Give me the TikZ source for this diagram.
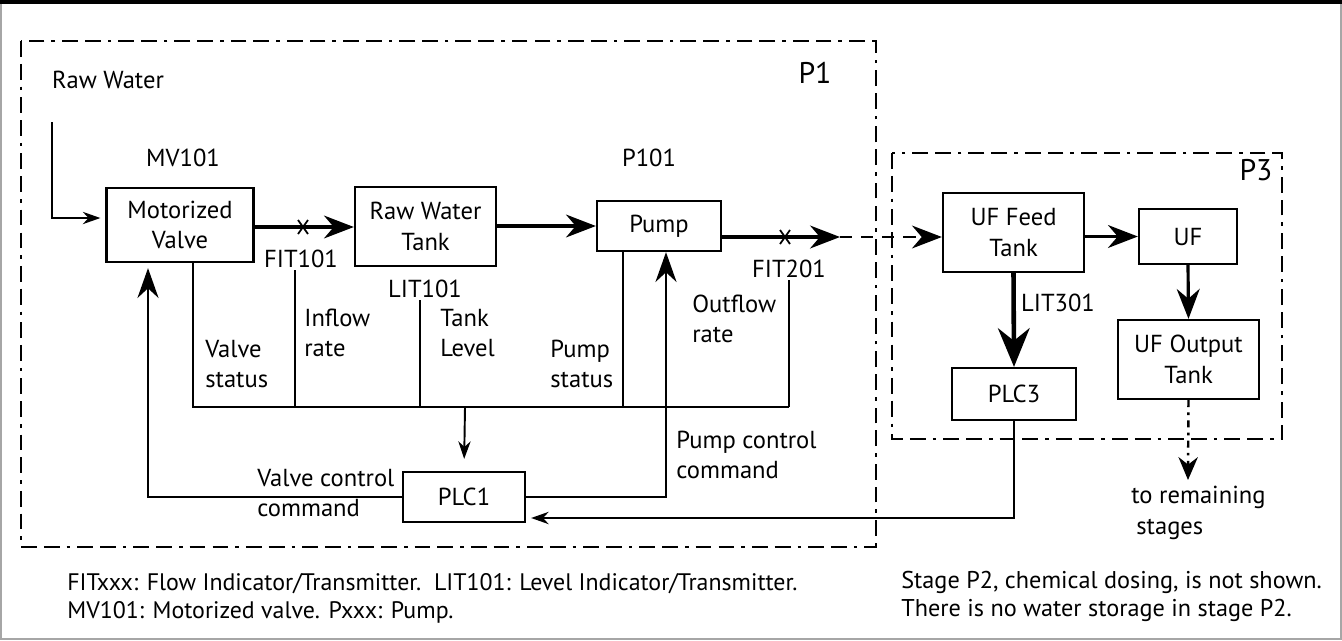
\documentclass[tikz,border=0pt]{standalone}
\usepackage{fontspec}
\setmainfont{PT Sans}
\usetikzlibrary{arrows.meta, positioning}

\begin{document}
\begin{tikzpicture}[x=0.02cm, y=-0.02cm, font=\fontsize{14}{17.5}\selectfont,
    box/.style={draw, line width=1.3pt, align=center, inner sep=2pt},
    flow/.style={line width=1.8pt, -{Stealth[length=17pt, width=13pt]}},
    sig/.style={line width=1.1pt},
    bigtip/.style={-{Stealth[length=17pt, width=12pt]}},
    smalltip/.style={-{Stealth[length=10pt, width=7pt]}},
    stage/.style={line width=1.6pt, dash pattern=on 9pt off 4pt on 9pt off 4pt on 2pt off 4pt},
    lbl/.style={align=left, anchor=west, inner sep=0pt}]
  \useasboundingbox (0,0) rectangle (1342,640);
  \draw[gray!70, line width=0.8pt] (1,1) rectangle (1341,639);
  \draw[line width=2.4pt] (0,2) -- (1342,2);

  % stages
  \draw[stage] (21,41) rectangle (876,547);
  \draw[stage] (892,153) rectangle (1282,439);
  \node (p1) at (815,73) {\fontsize{17}{20}\selectfont P1};
  \node (p3) at (1256,170) {\fontsize{17}{20}\selectfont P3};

  % process blocks
  \node[box, minimum width=2.94cm, minimum height=1.48cm] (mv) at (180,225) {Motorized\\Valve};
  \node[box, minimum width=2.82cm, minimum height=1.58cm] (rwt) at (425.5,226.5) {Raw Water\\Tank};
  \node[box, minimum width=2.48cm, minimum height=1.0cm] (pump) at (659,226) {Pump};
  \node[box, minimum width=2.82cm, minimum height=1.58cm] (uff) at (1013.5,232.5) {UF Feed\\Tank};
  \node[box, minimum width=1.96cm, minimum height=1.1cm] (uf) at (1188,236.5) {UF};
  \node[box, minimum width=2.82cm, minimum height=1.58cm] (ufo) at (1188.5,359.5) {UF Output\\Tank};
  \node[box, minimum width=2.48cm, minimum height=1.04cm] (plc3) at (1014,394) {PLC3};
  \node[box, minimum width=2.44cm, minimum height=1.0cm] (plc1) at (464,497) {PLC1};

  % tags
  \node (rw) at (108,80) {Raw Water};
  \node (mvt) at (183,158) {MV101};
  \node (pt) at (649,158) {P101};
  \node[inner sep=1pt] (fit1) at (301,259) {FIT101};
  \node[inner sep=1pt] (lit1) at (425,289) {LIT101};
  \node[inner sep=1pt] (fit2) at (789,269) {FIT201};
  \node (lit3) at (1058,303) {LIT301};
  \node[lbl] (vst) at (205,364) {Valve\\status};
  \node[lbl] (inr) at (304,333) {Inflow\\rate};
  \node[lbl] (tkl) at (440,333) {Tank\\Level};
  \node[lbl] (pst) at (550,364) {Pump\\status};
  \node[lbl] (outr) at (692,319) {Outflow\\rate};
  \node[lbl] (pcc) at (676,455) {Pump control\\command};
  \node[lbl] (vcc) at (257,493) {Valve control\\command};
  \node[lbl, anchor=north west] (rem) at (1131,486) {to remaining\\\hspace{0.1cm}stages};

  % water flow
  \coordinate (rwin) at (52,122);
  \draw[sig, smalltip, shorten >=0.1cm] (rwin) |- ([yshift=0.14cm]mv.west);
  \draw[flow] (mv.east |- 0,227) coordinate (a1) -- (rwt.west |- a1);
  \draw[flow] (rwt.east |- pump.west) -- (pump.west);
  \coordinate (jn) at (840,237);
  \draw[flow] (pump.east |- jn) -- (jn);
  \draw[line width=1.4pt, dash pattern=on 7pt off 5pt, -{Stealth[length=17pt, width=13pt]}] (jn) -- (uff.west |- jn);
  \draw[flow] (uff.east |- uf.west) -- (uf.west);
  \draw[flow] (uf.south) -- (ufo.north);
  \draw[line width=2.6pt, -{Stealth[length=22pt, width=18pt]}] (uff.south) -- (plc3.north);
  \coordinate (dn) at (1188,480);
  \draw[line width=1.4pt, dash pattern=on 4pt off 3pt on 1.5pt off 3pt, -{Stealth[length=13pt, width=11pt]}] (ufo.south) -- (dn);

  % flow meters
  \foreach \mx/\my in {303/227, 785/237}
    \draw[line width=1pt] (\mx-5,\my-7) -- (\mx+5,\my+7) (\mx-5,\my+7) -- (\mx+5,\my-7);

  % sensor bus
  \coordinate (b1) at (193,407);
  \coordinate (b2) at (295,407);
  \coordinate (b3) at (420,407);
  \coordinate (b4) at (623,407);
  \coordinate (b5) at (789,407);
  \coordinate (b0) at (465,407);
  \draw[sig] (mv.south -| b1) -- (b1) -- (b5);
  \draw[sig] (fit1.south -| b2) -- (b2);
  \draw[sig] (lit1.south -| b3) -- (b3);
  \draw[sig] (pump.south -| b4) -- (b4);
  \draw[sig] (fit2.south -| b5) -- (b5);
  \draw[sig, smalltip, shorten >=0.24cm] (b0) -- (plc1.north);

  % control commands
  \draw[sig, bigtip, shorten >=0.1cm] (plc1.west) -| ([xshift=-0.64cm]mv.south);
  \draw[sig, bigtip] (plc1.east) -| ([xshift=0.14cm]pump.south);
  \draw[sig, smalltip, shorten >=0.1cm] (plc3.south) |- ([yshift=-0.42cm]plc1.east);

  % notes
  \node[lbl, font=\fontsize{13.6}{16}\selectfont] (n1) at (67,598)
    {FITxxx: Flow Indicator/Transmitter.\ \ LIT101: Level Indicator/Transmitter.\\MV101: Motorized valve. Pxxx: Pump.};
  \node[lbl, font=\fontsize{13.8}{16}\selectfont] (n2) at (901,596)
    {Stage P2, chemical dosing, is not shown.\\There is no water storage in stage P2.};
\end{tikzpicture}
\end{document}
